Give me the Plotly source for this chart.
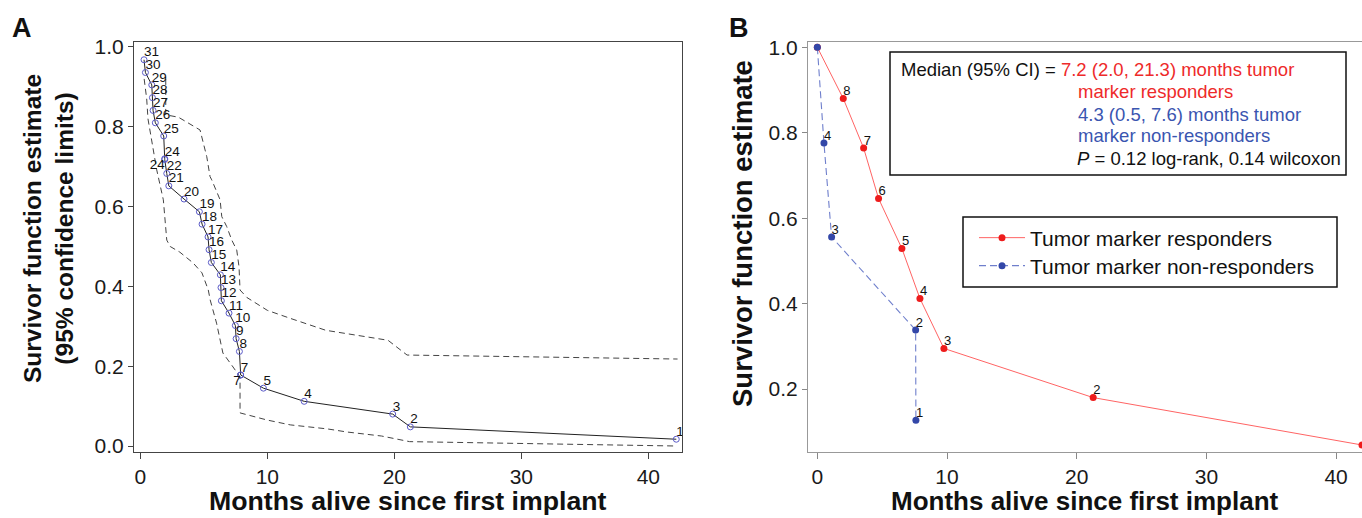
import plotly.graph_objects as go

W, H = 1362, 518
FONT = "Arial, Liberation Sans, Helvetica, sans-serif"

# ---------------- Panel A data ----------------
a_months = [0.29, 0.4, 0.9, 0.95, 1.0, 1.18, 1.84, 1.92, 1.92, 2.08, 2.24, 3.44, 4.65, 4.86, 5.33,
            5.41, 5.59, 6.3, 6.35, 6.38, 6.98, 7.48, 7.54, 7.8, 7.9, 7.9, 9.69, 12.9, 19.87, 21.26, 42.2]
a_surv = [0.968, 0.936, 0.905, 0.873, 0.841, 0.81, 0.777, 0.72, 0.718, 0.683, 0.652, 0.619, 0.587, 0.556,
          0.524, 0.492, 0.46, 0.429, 0.397, 0.364, 0.333, 0.302, 0.269, 0.237, 0.178, 0.178, 0.145, 0.112,
          0.08, 0.048, 0.017]
a_labels = ["31", "30", "29", "28", "27", "26", "25", "24", "24", "22", "21", "20", "19", "18", "17", "16",
            "15", "14", "13", "12", "11", "10", "9", "8", "7", "7", "5", "4", "3", "2", "1"]
a_label_pos = ["top right"] * 31
a_label_pos[7] = "bottom left"
a_label_pos[24] = "bottom left"

a_upper_x = [2.0, 2.0, 3.0, 3.76, 4.7, 5.23, 5.49, 5.62, 6.28, 6.41, 6.8, 7.2, 7.59, 7.77, 7.85, 8.4, 10.0,
             11.8, 14.6, 19.5, 21.0, 42.3]
a_upper_y = [0.92, 0.83, 0.824, 0.81, 0.792, 0.725, 0.675, 0.667, 0.617, 0.575, 0.55, 0.516, 0.491, 0.449,
             0.391, 0.372, 0.34, 0.32, 0.29, 0.265, 0.228, 0.218]
a_lower_x = [0.3, 0.5, 0.6, 0.9, 1.02, 1.29, 1.81, 1.94, 2.08, 2.35, 3.1, 4.15, 4.85, 5.35, 5.5, 6.0,
             6.5, 7.3, 7.85, 7.85, 8.4, 10.0, 11.8, 14.7, 16.3, 19.0, 21.2, 42.2]
a_lower_y = [0.92, 0.87, 0.82, 0.76, 0.742, 0.692, 0.617, 0.575, 0.516, 0.5, 0.486, 0.459, 0.434, 0.391,
             0.366, 0.308, 0.233, 0.198, 0.173, 0.083, 0.078, 0.065, 0.053, 0.043, 0.035, 0.025, 0.011, 0.0]

# ---------------- Panel B data ----------------
resp_months = [0.0, 2.0, 3.57, 4.72, 6.52, 7.91, 9.76, 21.27, 42.0]
resp_surv = [1.0, 0.88, 0.764, 0.646, 0.529, 0.412, 0.295, 0.18, 0.069]
resp_labels = ["", "8", "7", "6", "5", "4", "3", "2", "1"]

nonresp_months = [0.0, 0.51, 1.1, 7.58, 7.6]
nonresp_surv = [1.0, 0.776, 0.556, 0.338, 0.127]
nonresp_labels = ["", "4", "3", "2", "1"]

x_ticks = [0, 10, 20, 30, 40]
a_y_ticks = [0.0, 0.2, 0.4, 0.6, 0.8, 1.0]
b_y_ticks = [0.2, 0.4, 0.6, 0.8, 1.0]

RED_LINE = "#ff6464"
RED_MK = "#ee1c1c"
BLUE_LINE = "#6f7fcc"
BLUE_MK = "#3347a8"


def px(x):
    return x / W


def py(y):
    return 1 - y / H


fig = go.Figure()

# Panel A
fig.add_trace(go.Scatter(x=a_upper_x, y=a_upper_y, mode="lines", xaxis="x", yaxis="y",
                         line=dict(color="#444444", width=1, dash="6px,4px"), showlegend=False,
                         hoverinfo="skip"))
fig.add_trace(go.Scatter(x=a_lower_x, y=a_lower_y, mode="lines", xaxis="x", yaxis="y",
                         line=dict(color="#444444", width=1, dash="6px,4px"), showlegend=False,
                         hoverinfo="skip"))
fig.add_trace(go.Scatter(x=a_months, y=a_surv, mode="lines+markers", xaxis="x", yaxis="y",
                         line=dict(color="#222222", width=1),
                         marker=dict(symbol="circle-open", size=6, color="#5b5bc8", line=dict(width=1)),
                         showlegend=False))
fig.add_trace(go.Scatter(x=a_months, y=a_surv, mode="text", xaxis="x", yaxis="y", text=a_labels,
                         textposition=a_label_pos, textfont=dict(size=13.5, color="#111111", family=FONT),
                         showlegend=False, hoverinfo="skip"))

# Panel B
fig.add_trace(go.Scatter(x=resp_months, y=resp_surv, mode="lines+markers", xaxis="x2", yaxis="y2",
                         name="Tumor marker responders", legend="legend",
                         line=dict(color=RED_LINE, width=1),
                         marker=dict(size=7, color=RED_MK)))
fig.add_trace(go.Scatter(x=nonresp_months, y=nonresp_surv, mode="lines+markers", xaxis="x2", yaxis="y2",
                         name="Tumor marker non-responders", legend="legend2",
                         line=dict(color=BLUE_LINE, width=1.1, dash="7px,4px"),
                         marker=dict(size=7, color=BLUE_MK)))
fig.add_trace(go.Scatter(x=resp_months, y=resp_surv, mode="text", xaxis="x2", yaxis="y2", text=resp_labels,
                         textposition="top right", textfont=dict(size=13, color="#111111", family=FONT),
                         showlegend=False, hoverinfo="skip"))
fig.add_trace(go.Scatter(x=nonresp_months, y=nonresp_surv, mode="text", xaxis="x2", yaxis="y2",
                         text=nonresp_labels, textposition="top right",
                         textfont=dict(size=13, color="#111111", family=FONT),
                         showlegend=False, hoverinfo="skip"))

tickfont = dict(family=FONT, size=21, color="#1a1a1a")
legend_common = dict(xanchor="left", yanchor="middle", itemwidth=46, borderwidth=0,
                     bgcolor="rgba(0,0,0,0)", font=dict(family=FONT, size=21, color="#111"))

fig.update_layout(
    width=W, height=H,
    margin=dict(l=0, r=0, t=0, b=0, autoexpand=False),
    paper_bgcolor="white", plot_bgcolor="white",
    font=dict(family=FONT),
    xaxis=dict(domain=[px(134), px(682)], range=[-0.5, 42.65], tickvals=x_ticks,
               ticks="outside", ticklen=6, tickcolor="#444", showline=True, linecolor="#444",
               linewidth=1, mirror=True, showgrid=False, zeroline=False, tickfont=tickfont,
               anchor="y", automargin=False),
    yaxis=dict(domain=[py(452), py(42)], range=[-0.015, 1.0125], tickvals=a_y_ticks,
               tickformat=".1f", ticks="outside", ticklen=5, tickcolor="#444", showline=True,
               linecolor="#444", linewidth=1, mirror=True, showgrid=False, zeroline=False,
               tickfont=tickfont, anchor="x", automargin=False),
    xaxis2=dict(domain=[px(808), 1.0], range=[-0.72, 42.0], tickvals=x_ticks,
                ticks="outside", ticklen=6, tickcolor="#888", showline=True, linecolor="#999",
                linewidth=1, mirror=True, showgrid=False, zeroline=False, tickfont=tickfont,
                anchor="y2", automargin=False),
    yaxis2=dict(domain=[py(452), py(42)], range=[0.0526, 1.0124], tickvals=b_y_ticks,
                tickformat=".1f", ticks="outside", ticklen=5, tickcolor="#888", showline=True,
                linecolor="#999", linewidth=1, showgrid=False, zeroline=False, tickfont=tickfont,
                anchor="x2", automargin=False),
    legend=dict(x=px(974), y=py(238), **legend_common),
    legend2=dict(x=px(974), y=py(266), **legend_common),
)

ann = []
ann.append(dict(text="<b>A</b>", x=px(10), y=py(28), xref="paper", yref="paper", xanchor="left",
                yanchor="middle", showarrow=False, font=dict(family=FONT, size=27, color="#111")))
ann.append(dict(text="<b>B</b>", x=px(727), y=py(28), xref="paper", yref="paper", xanchor="left",
                yanchor="middle", showarrow=False, font=dict(family=FONT, size=27, color="#111")))
ann.append(dict(text="<b>Months alive since first implant</b>", x=px(408), y=0, xref="paper",
                yref="paper", xanchor="center", yanchor="bottom", showarrow=False,
                font=dict(family=FONT, size=26.7, color="#111")))
ann.append(dict(text="<b>Months alive since first implant</b>", x=px(1085), y=0, xref="paper",
                yref="paper", xanchor="center", yanchor="bottom", showarrow=False,
                font=dict(family=FONT, size=26, color="#111")))
ann.append(dict(text="<b>Survivor function estimate<br>(95% confidence limits)</b>", x=px(48),
                y=py(229), xref="paper", yref="paper", xanchor="center", yanchor="middle",
                showarrow=False, textangle=-90, font=dict(family=FONT, size=24.5, color="#111")))
ann.append(dict(text="<b>Survivor function estimate</b>", x=px(742), y=py(234), xref="paper",
                yref="paper", xanchor="center", yanchor="middle", showarrow=False, textangle=-90,
                font=dict(family=FONT, size=27.5, color="#111")))

RED_T = "#ee2a2a"
BLUE_T = "#3a55b0"
BOX_FS = 18.5
box_font = dict(family=FONT, size=BOX_FS, color="#111")
ann.append(dict(text="Median (95% CI) = <span style='color:" + RED_T + "'>7.2 (2.0, 21.3) months tumor</span>",
                x=px(899), y=py(70), xref="paper", yref="paper", xanchor="left", yanchor="middle",
                showarrow=False, font=box_font))
ann.append(dict(text="marker responders", x=px(1076), y=py(92), xref="paper", yref="paper",
                xanchor="left", yanchor="middle", showarrow=False,
                font=dict(family=FONT, size=BOX_FS, color=RED_T)))
ann.append(dict(text="4.3 (0.5, 7.6) months tumor", x=px(1076), y=py(114), xref="paper", yref="paper",
                xanchor="left", yanchor="middle", showarrow=False,
                font=dict(family=FONT, size=BOX_FS, color=BLUE_T)))
ann.append(dict(text="marker non-responders", x=px(1076), y=py(136), xref="paper", yref="paper",
                xanchor="left", yanchor="middle", showarrow=False,
                font=dict(family=FONT, size=BOX_FS, color=BLUE_T)))
ann.append(dict(text="<i>P</i> = 0.12 log-rank, 0.14 wilcoxon", x=px(1075), y=py(158), xref="paper",
                yref="paper", xanchor="left", yanchor="middle", showarrow=False, font=box_font))

fig.update_layout(annotations=ann)
fig.add_shape(type="rect", xref="paper", yref="paper", x0=px(890), x1=px(1346), y0=py(52), y1=py(175),
              line=dict(color="#111", width=1.5), fillcolor="white", layer="below")
fig.add_shape(type="rect", xref="paper", yref="paper", x0=px(963), x1=px(1337), y0=py(217), y1=py(287),
              line=dict(color="#111", width=1.5), fillcolor="white", layer="below")

fig.write_html("out.html", config={"displayModeBar": False},
               post_script="document.body.style.margin='0';")
